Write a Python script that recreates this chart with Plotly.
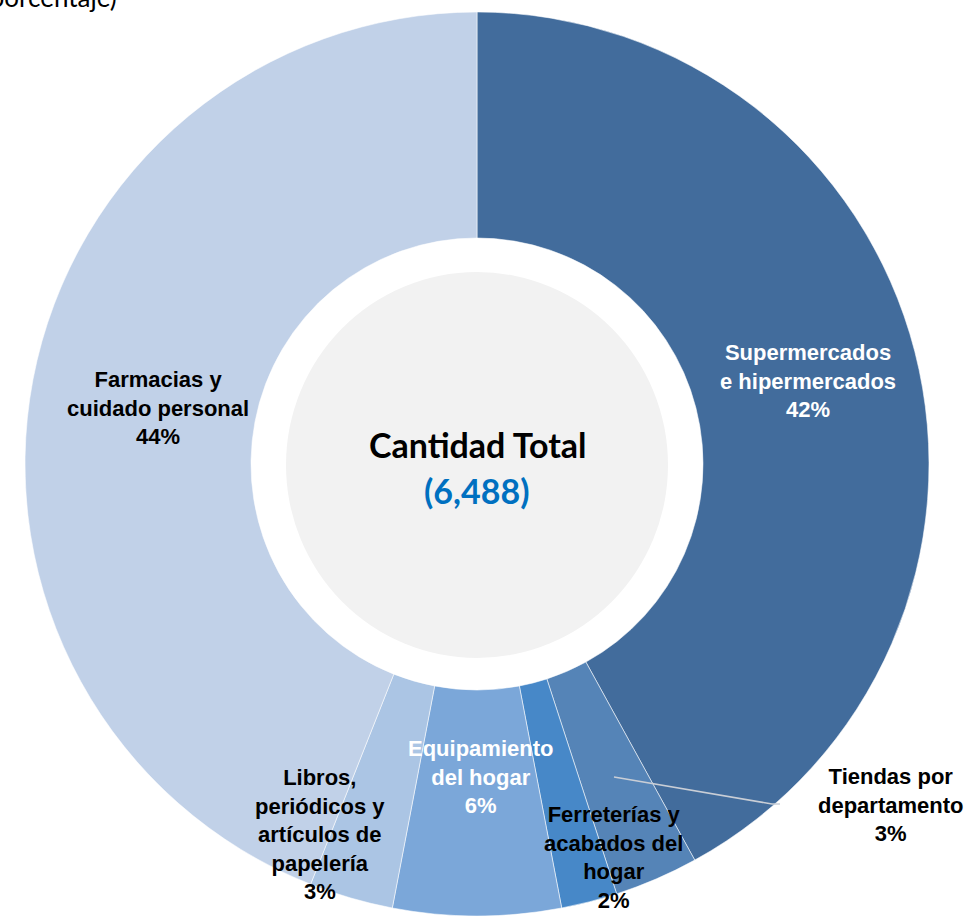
import plotly.graph_objects as go

W, H = 970, 916

labels = ["Supermercados<br>e hipermercados", "Tiendas por<br>departamento",
          "Ferreterías y<br>acabados del<br>hogar", "Equipamiento<br>del hogar",
          "Libros,<br>periódicos y<br>artículos de<br>papelería",
          "Farmacias y<br>cuidado personal"]
values = [42, 3, 2, 6, 3, 44]
colors = ["#426c9c", "#5584b7", "#4788c8", "#7ba7d9", "#abc5e4", "#c1d1e8"]
total = "6,488"

# label placement (pixel centres in the screenshot) and text colour per slice
label_xy = [(808, 381), (890, 805), (613, 857), (480, 777), (320, 834), (158, 408)]
label_color = ["white", "black", "black", "white", "black", "black"]


def px(x, y):
    return x / W, 1 - y / H


fig = go.Figure(go.Pie(
    labels=labels, values=values, sort=False, direction="clockwise",
    rotation=0, hole=0.5, textinfo="none", hoverinfo="label+percent",
    marker=dict(colors=colors, line=dict(color="rgba(255,255,255,0.55)", width=1)),
    domain=dict(x=[px(24, 0)[0], px(930, 0)[0]], y=[0, px(0, 12)[1]]),
    showlegend=False,
))

annotations = []
for lab, v, (x, y), c in zip(labels, values, label_xy, label_color):
    ax, ay = px(x, y)
    annotations.append(dict(
        text=f"<b>{lab}<br>{v}%</b>", x=ax, y=ay, xref="paper", yref="paper",
        xanchor="center", yanchor="middle", showarrow=False,
        font=dict(family="Liberation Sans, Arial", size=22, color=c),
    ))

cx, cy = px(477, 444)
annotations.append(dict(text="<b>Cantidad Total</b>", x=cx, y=cy, xref="paper", yref="paper",
                        xanchor="center", yanchor="middle", showarrow=False,
                        font=dict(family="Lato", size=34, color="black")))
cx, cy = px(477, 490)
annotations.append(dict(text=f"<b>({total})</b>", x=cx, y=cy, xref="paper", yref="paper",
                        xanchor="center", yanchor="middle", showarrow=False,
                        font=dict(family="Lato", size=34, color="#0070c0")))

# title sits mostly above the visible area, only its lower part shows
tx, ty = px(119, 15)
annotations.append(dict(text="(porcentaje)", x=tx, y=ty, xref="paper", yref="paper",
                        xanchor="right", yanchor="bottom", showarrow=False,
                        font=dict(family="Lato", size=26, color="black")))

g0 = px(286, 658)
g1 = px(668, 272)
x0, y0 = px(614, 777)
x1, y1 = px(772, 804)
x2, y2 = px(780, 804)
shapes = [
    dict(type="circle", xref="paper", yref="paper", x0=g0[0], y0=g0[1], x1=g1[0], y1=g1[1],
         fillcolor="#f2f2f2", line=dict(width=0), layer="below"),
    dict(type="path", xref="paper", yref="paper",
         path=f"M {x0} {y0} L {x1} {y1} L {x2} {y2}",
         line=dict(color="#c9ced6", width=1.5)),
]

fig.update_layout(
    width=W, height=H, margin=dict(l=0, r=0, t=0, b=0),
    paper_bgcolor="white", plot_bgcolor="white",
    annotations=annotations, shapes=shapes,
)

fig.write_html("out.html", config={"displayModeBar": False},
               post_script="document.body.style.margin = '0';")
